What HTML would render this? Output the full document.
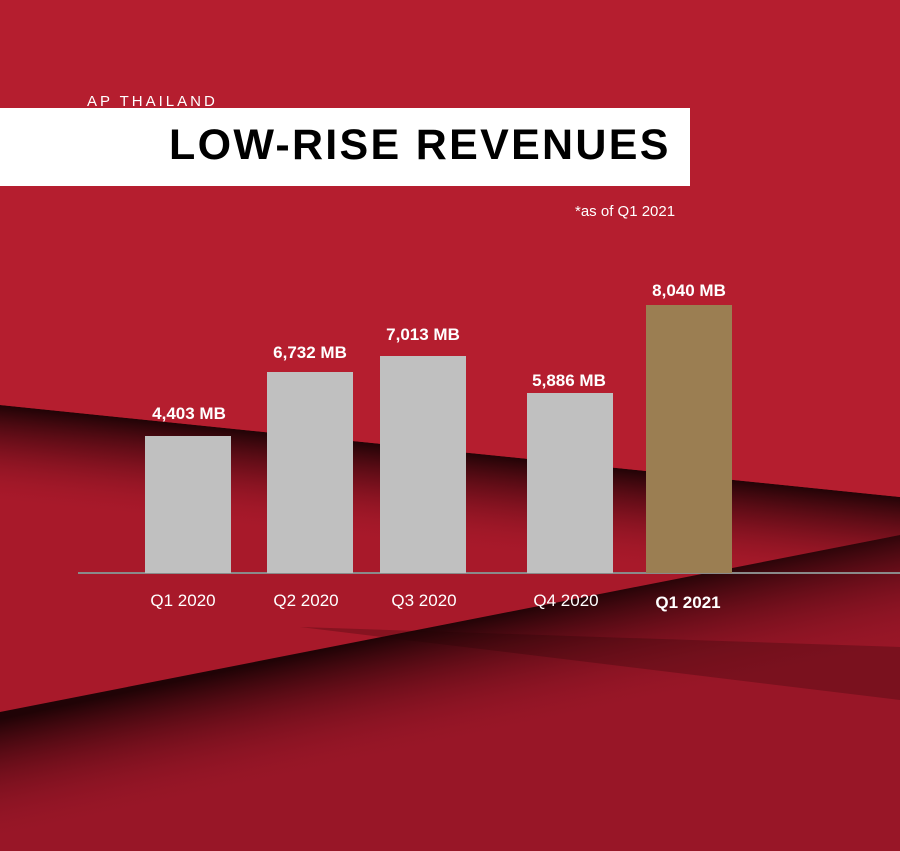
<!DOCTYPE html>
<html><head><meta charset="utf-8"><style>
html,body{margin:0;padding:0}
body{width:900px;height:851px;overflow:hidden;position:relative;font-family:"Liberation Sans",sans-serif;background:#a8192a}
svg{position:absolute;left:0;top:0}
.t{position:absolute;color:#fff;font-weight:bold;font-size:17px;white-space:nowrap;transform:translateX(-50%)}
.x{position:absolute;color:#fff;font-size:17px;white-space:nowrap;transform:translateX(-50%)}
.bar{position:absolute;background:#c0c0c0}
</style></head><body>
<svg width="900" height="851">
<defs>
<linearGradient id="s1" gradientUnits="userSpaceOnUse" x1="450" y1="451" x2="440" y2="550"><stop offset="0" stop-color="#1a0204" stop-opacity="0.95"/><stop offset="0.4" stop-color="#4a0810" stop-opacity="0.55"/><stop offset="1" stop-color="#a8192a" stop-opacity="0"/></linearGradient>
<linearGradient id="s2" gradientUnits="userSpaceOnUse" x1="450" y1="623" x2="475" y2="740"><stop offset="0" stop-color="#1a0204" stop-opacity="0.95"/><stop offset="0.4" stop-color="#4a0810" stop-opacity="0.55"/><stop offset="1" stop-color="#951526" stop-opacity="0"/></linearGradient>
</defs>
<rect width="900" height="851" fill="#a8192a"/>
<polygon points="0,405 900,497 900,700 0,600" fill="url(#s1)"/>
<polygon points="0,712 900,535 900,851 0,851" fill="#981627"/>
<polygon points="0,712 900,535 900,851 0,851" fill="url(#s2)"/>
<polygon points="300,627 900,647 900,700" fill="#1e0205" opacity="0.25"/>
<polygon points="0,0 900,0 900,497 0,405" fill="#b51e2f"/>
<line x1="78" y1="573" x2="900" y2="573" stroke="#8a8a8a" stroke-width="2"/>
</svg>
<div style="position:absolute;left:87px;top:93px;color:#fff;font-size:15px;letter-spacing:3px">AP THAILAND</div>
<div style="position:absolute;left:0;top:108px;width:690px;height:78px;background:#fff"></div>
<div style="position:absolute;left:169px;top:121px;font-size:43px;font-weight:bold;color:#000;letter-spacing:2.3px">LOW-RISE REVENUES</div>
<div style="position:absolute;left:575px;top:203px;color:#fff;font-size:15px">*as of Q1 2021</div>
<div class="bar" style="left:145px;top:436px;width:86px;height:137px"></div>
<div class="bar" style="left:267px;top:372px;width:86px;height:201px"></div>
<div class="bar" style="left:380px;top:356px;width:86px;height:217px"></div>
<div class="bar" style="left:527px;top:393px;width:86px;height:180px"></div>
<div class="bar" style="left:646px;top:305px;width:86px;height:268px;background:#9b7e52"></div>
<div class="t" style="left:189px;top:404px">4,403 MB</div>
<div class="t" style="left:310px;top:343px">6,732 MB</div>
<div class="t" style="left:423px;top:325px">7,013 MB</div>
<div class="t" style="left:569px;top:371px">5,886 MB</div>
<div class="t" style="left:689px;top:281px">8,040 MB</div>
<div class="x" style="left:183px;top:591px">Q1 2020</div>
<div class="x" style="left:306px;top:591px">Q2 2020</div>
<div class="x" style="left:424px;top:591px">Q3 2020</div>
<div class="x" style="left:566px;top:591px">Q4 2020</div>
<div class="x" style="left:688px;top:593px;font-weight:bold">Q1 2021</div>
</body></html>
